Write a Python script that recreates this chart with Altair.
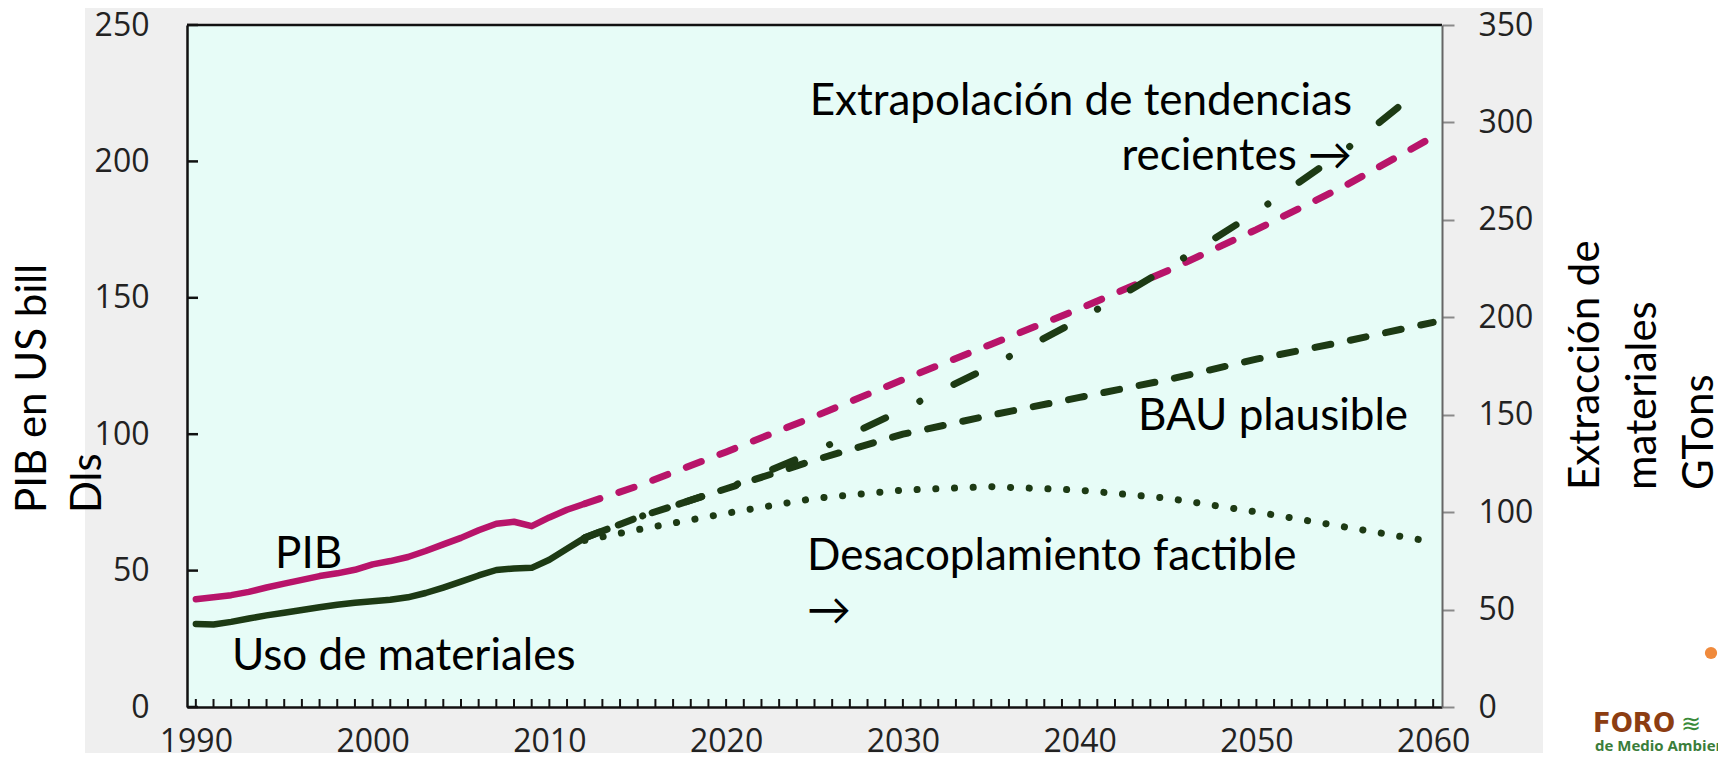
import altair as alt
import pandas as pd

# ---------------- data ----------------
YEARS_HIST = list(range(1990, 2013))
PIB_HIST = [39.5, 40.2, 41.0, 42.2, 43.8, 45.2, 46.6, 48.0, 49.0, 50.3, 52.3, 53.5,
            55.0, 57.2, 59.6, 62.0, 64.8, 67.2, 67.9, 66.3, 69.5, 72.3, 74.5]
MAT_HIST_GT = [42.6, 42.3, 43.7, 45.4, 47.0, 48.4, 49.8, 51.2, 52.5, 53.5, 54.3, 55.0,
               56.3, 58.5, 61.3, 64.3, 67.5, 70.3, 71.1, 71.4, 75.6, 81.2, 86.8]

YEARS_PROJ = [2012, 2015, 2020, 2025, 2030, 2035, 2040, 2045, 2050, 2055, 2060]
PIB_PROJ = [74.5, 81.0, 93.5, 106.5, 120.0, 133.0, 146.0, 160.0, 175.0, 191.0, 209.0]
MAT_BAU_GT = [86.8, 97.3, 112.0, 126.7, 140.0, 149.8, 158.9, 168.0, 178.5, 187.6, 197.4]
MAT_DECOUPLE_GT = [85.5, 91.0, 99.4, 107.1, 111.3, 113.1, 111.3, 107.1, 100.1, 92.4, 84.7]
YEARS_EXTRAP = [2012, 2015, 2020, 2025, 2030, 2035, 2040, 2045, 2050, 2055, 2059]
MAT_EXTRAP_GT = [86.8, 97.3, 112.0, 131.0, 152.6, 175.0, 198.8, 225.4, 254.0, 285.6, 315.0]

X_LABELS = [1990, 2000, 2010, 2020, 2030, 2040, 2050, 2060]
X_MINOR = list(range(1990, 2061))
YL_LABELS = [0, 50, 100, 150, 200, 250]
YR_LABELS = [0, 50, 100, 150, 200, 250, 300, 350]

TITLE_LEFT = ["PIB en US bill", "Dls"]
TITLE_RIGHT = ["Extracción de", "materiales", "GTons"]
ANN_EXTRAP = ["Extrapolación de tendencias", "recientes \u2192"]
ANN_PIB = "PIB"
ANN_USO = "Uso de materiales"
ANN_DESAC = ["Desacoplamiento factible", "\u2192"]
ANN_BAU = "BAU plausible"
LOGO_MAIN = "FORO"
LOGO_WAVES = "\u224b"
LOGO_SUB = "de Medio Ambiente"

# ---------------- style ----------------
PINK = "#b8146a"
GREEN = "#1d3a14"
W, H = 1255, 682
ANN_FONT = "Lato"
TICK_FONT = "Open Sans"

hist = pd.DataFrame({"year": YEARS_HIST, "pib": PIB_HIST, "gt": MAT_HIST_GT})
proj = pd.DataFrame({"year": YEARS_PROJ, "pib": PIB_PROJ, "bau": MAT_BAU_GT,
                     "dec": MAT_DECOUPLE_GT})
extrap = pd.DataFrame({"year": YEARS_EXTRAP, "gt": MAT_EXTRAP_GT})
one = pd.DataFrame({"k": [0]})

x_scale = alt.Scale(domain=[1989.5, 2060.5], nice=False, zero=False)
yl_scale = alt.Scale(domain=[0, 250], nice=False, zero=False)
yr_scale = alt.Scale(domain=[0, 350], nice=False, zero=False)

X_AXIS = alt.Axis(values=X_LABELS, format="d", title=None, ticks=False, grid=False,
                  domainColor="#111111", domainWidth=2.5, labelFont=TICK_FONT,
                  labelFontSize=32, labelColor="#222222", labelPadding=19,
                  labelFlush=False, labelOverlap=False, zindex=1)
YL_AXIS = alt.Axis(values=YL_LABELS, title=None, ticks=False, grid=False, orient="left",
                   domainColor="#111111", domainWidth=2.5, labelFont=TICK_FONT,
                   labelFontSize=32, labelColor="#222222", labelPadding=38, zindex=1)
YR_AXIS = alt.Axis(values=YR_LABELS, title=None, ticks=True, tickSize=12,
                   tickColor="#8a8a8a", tickWidth=2, grid=False, orient="right",
                   domainColor="#666666", domainWidth=2, labelFont=TICK_FONT,
                   labelFontSize=32, labelColor="#222222", labelPadding=24, zindex=1)

X = alt.X("year:Q", scale=x_scale, axis=X_AXIS)

# ---------------- backgrounds & frame ----------------
panel = alt.Chart(one).mark_rect(color="#efefef").encode(
    x=alt.value(-102), x2=alt.value(1356), y=alt.value(-19), y2=alt.value(760))
plot_fill = alt.Chart(one).mark_rect(color="#e7fcf7").encode(
    x=alt.value(0), x2=alt.value(W), y=alt.value(0), y2=alt.value(H))
top_border = alt.Chart(one).mark_rule(color="#111111", strokeWidth=2.5).encode(
    x=alt.value(0), x2=alt.value(W), y=alt.value(0))

x_ticks = alt.Chart(pd.DataFrame({"year": X_MINOR})).mark_rule(
    color="#111111", strokeWidth=2).encode(x=X, y=alt.value(H), y2=alt.value(H - 8))
yl_ticks = alt.Chart(pd.DataFrame({"v": YL_LABELS})).mark_rule(
    color="#111111", strokeWidth=2.5).encode(
    y=alt.Y("v:Q", scale=yl_scale, axis=YL_AXIS), x=alt.value(0), x2=alt.value(11))

# ---------------- PIB (left axis) ----------------
YL = alt.Y("pib:Q", scale=yl_scale, axis=YL_AXIS)
pib_hist = alt.Chart(hist).mark_line(color=PINK, strokeWidth=6.5, strokeCap="round",
                                     strokeJoin="round").encode(x=X, y=YL)
pib_proj = alt.Chart(proj).mark_line(color=PINK, strokeWidth=7, strokeCap="round",
                                     strokeDash=[16, 20]).encode(x=X, y=YL)

# ---------------- annotations ----------------
def txt(text, x, y, align="left", size=44, font=ANN_FONT, color="black",
        weight="normal", angle=0, line_height=55):
    return alt.Chart(one).mark_text(
        text=text, align=align, baseline="alphabetic", font=font, fontSize=size,
        color=color, fontWeight=weight, angle=angle, lineHeight=line_height
    ).encode(x=alt.value(x), y=alt.value(y))

annotations = [
    txt(ANN_EXTRAP, 1165, 90, align="right"),
    txt(ANN_PIB, 88, 543),
    txt(ANN_USO, 45, 645),
    txt(ANN_DESAC, 620, 545),
    txt(ANN_BAU, 951, 405),
    txt(TITLE_LEFT, -141, 488, size=42, angle=270, line_height=55),
    txt(TITLE_RIGHT, 1412, 465, size=42, angle=270, line_height=57),
    txt(LOGO_MAIN, 1406, 707, size=26, font="DejaVu Sans", color="#8c3d12",
        weight="bold"),
    txt(LOGO_WAVES, 1494, 707, size=24, font="DejaVu Sans", color="#3a8a3a"),
    txt(LOGO_SUB, 1408, 726, size=15, font="Open Sans", color="#3a7d3a",
        weight="bold"),
]
logo_dot = alt.Chart(one).mark_point(filled=True, color="#f08a3c", size=150,
                                     opacity=1).encode(x=alt.value(1524), y=alt.value(628))

left_group = alt.layer(panel, plot_fill, top_border, x_ticks, yl_ticks,
                       pib_hist, pib_proj, *annotations, logo_dot)

# ---------------- materials (right axis) ----------------
YR = alt.Y("gt:Q", scale=yr_scale, axis=YR_AXIS)
mat_hist = alt.Chart(hist).mark_line(color=GREEN, strokeWidth=6.5, strokeCap="round",
                                     strokeJoin="round").encode(x=X, y=YR)
mat_bau = alt.Chart(proj).mark_line(color=GREEN, strokeWidth=7, strokeCap="round",
                                    strokeDash=[16, 20]).encode(
    x=X, y=alt.Y("bau:Q", scale=yr_scale, axis=YR_AXIS))
mat_dec = alt.Chart(proj).mark_line(color=GREEN, strokeWidth=7, strokeCap="round",
                                    strokeDash=[0.1, 18.6]).encode(
    x=X, y=alt.Y("dec:Q", scale=yr_scale, axis=YR_AXIS))
mat_ext = alt.Chart(extrap).mark_line(color=GREEN, strokeWidth=7, strokeCap="round",
                                      strokeDash=[24, 38, 0.1, 38]).encode(x=X, y=YR)

right_group = alt.layer(mat_hist, mat_bau, mat_dec, mat_ext)

chart = alt.layer(left_group, right_group).resolve_scale(y="independent").properties(
    width=W, height=H,
    autosize=alt.AutoSizeParams(type="none"),
    padding={"left": 179, "top": 17, "right": 276, "bottom": 46},
    background="white",
).configure_view(stroke=None, fill=None)

chart.save("out.html", embed_options={"renderer": "svg", "actions": False})
